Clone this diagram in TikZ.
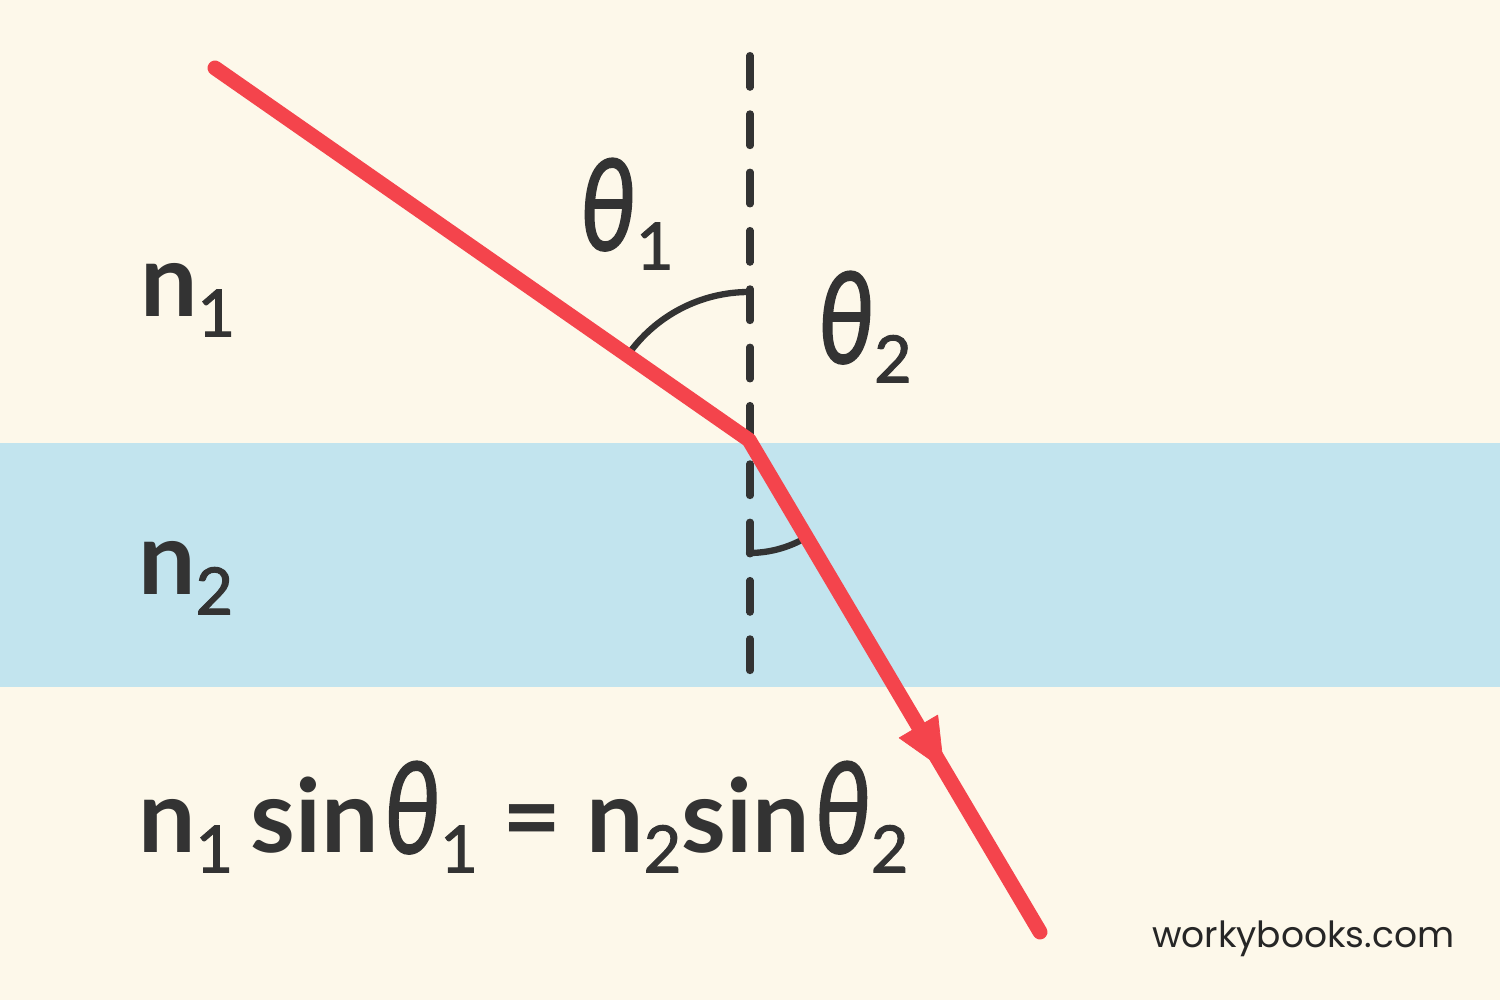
\documentclass[tikz,border=0pt]{standalone}
\usepackage{fontspec}
\setmainfont{Lato}
\newfontfamily\latomid[FakeBold=1.6]{Lato}
\newfontfamily\wbfont{Poppins}
\usetikzlibrary{decorations.markings,arrows.meta}
\definecolor{bgc}{RGB}{253,248,234}
\definecolor{bandc}{RGB}{194,228,238}
\definecolor{rayc}{RGB}{244,68,76}
\definecolor{inkc}{RGB}{51,51,51}
\newcommand\subnum[1]{\raisebox{-11pt}{\fontsize{37}{40}\latomid\selectfont #1}}
\newcommand\bign[1]{{\fontsize{58}{66}\selectfont\bfseries #1}}
\newcommand\thet{\scalebox{0.95}[1.2]{\fontsize{60}{66}\latomid\itshape\selectfont θ}}
\tikzset{
  lbl/.style={inner sep=0pt, outer sep=0pt, anchor=base west, text=inkc},
  raystyle/.style={draw=rayc, line width=8.5pt, line cap=round, line join=round},
  normalstyle/.style={draw=inkc, line width=4pt, line cap=round, dash pattern=on 18.1pt off 15.1pt},
  anglearc/.style={draw=inkc, line width=3.6pt, line cap=round},
}
\begin{document}
\begin{tikzpicture}[x=0.02cm,y=0.02cm]
\fill[bgc] (0,0) rectangle (1500,1000);
\fill[bandc] (0,313) rectangle (1500,557);
\useasboundingbox (0,0) rectangle (1500,1000);
\coordinate (A) at (215,932);
\coordinate (O) at (749,560);
\coordinate (B) at (1040,68);
\coordinate (Ntop) at (750,944.5);
\coordinate (Nbot) at (750,327.5);
\draw[normalstyle] (Ntop) -- (Nbot);
\draw[anglearc] (O) ++(90:148) arc[start angle=90,end angle=145,radius=148];
\draw[anglearc] (O) ++(270:113) arc[start angle=270,end angle=300,radius=113];
\draw[raystyle] (A) -- (O) -- (B);
\path[decorate, decoration={markings, mark=at position 0.67 with {\arrow[rayc]{Triangle[length=29pt,width=26pt,round]}}}] (O) -- (B);
\node[lbl] (n1) at (140,683) {\bign{n}\subnum{1}};
\node[lbl] (n2) at (138,405) {\bign{n}\subnum{2}};
\node[lbl] (t1) at (580,750) {\thet\subnum{1}};
\node[lbl] (t2) at (818,637) {\thet\subnum{2}};
\node[lbl] (eq) at (138,147) {\bign{n}\subnum{1}\hspace{10pt}\bign{sin}\hspace{3pt}\thet\subnum{1}\hspace{14pt}\bign{=}\hspace{14pt}\bign{n}\subnum{2}\bign{sin}\hspace{3pt}\thet\subnum{2}};
\node[lbl, text=black!85] (wb) at (1152,52) {\wbfont\fontsize{20.5}{24}\selectfont workybooks.com};
\end{tikzpicture}
\end{document}
